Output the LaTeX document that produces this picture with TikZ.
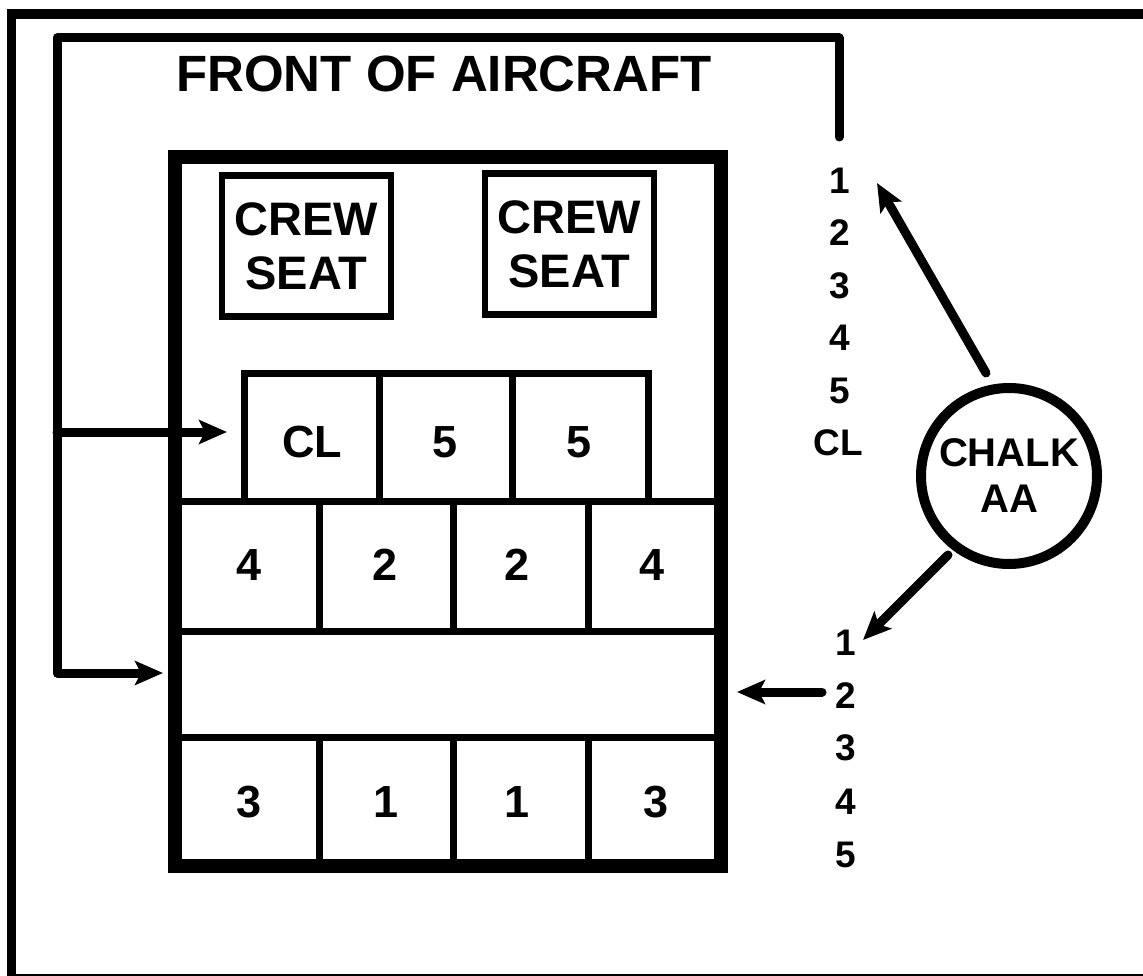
\documentclass[tikz,border=0pt]{standalone}
\usepackage{fontspec}
\setmainfont{Liberation Sans}
\usetikzlibrary{arrows.meta}
\begin{document}
\begin{tikzpicture}[x=1pt,y=-1pt,
  frame/.style={line width=9.5pt},
  fus/.style={line width=14pt},
  innerline/.style={line width=7pt},
  conn/.style={line width=9pt, line cap=round, line join=round},
  arr/.style={conn, -{Stealth[length=28pt,width=24pt,inset=6pt]}},
  seat/.style={draw, line width=6.5pt, minimum width=169pt, minimum height=141pt, inner sep=0pt, align=center, font=\fontsize{47}{54}\selectfont\bfseries},
  cell/.style={inner sep=0pt, font=\fontsize{45}{45}\selectfont\bfseries},
  lab/.style={inner sep=0pt, font=\fontsize{37}{37}\selectfont\bfseries},
]
\path[use as bounding box] (0,0) rectangle (1143,976);
\clip (0,0) rectangle (1143,976);
% outer frame
\draw[frame] (11.5,14) rectangle (1170,978.5);
% title
\node[inner sep=0pt, font=\fontsize{51}{51}\selectfont\bfseries] (front) at (444,74) {FRONT OF AIRCRAFT};
% fuselage
\draw[fus] (175,157.5) rectangle (721,866);
% crew seats
\node[seat] (crewL) at (306.5,246) {CREW\\SEAT};
\node[seat] (crewR) at (569.5,244) {CREW\\SEAT};
% seat grid
\draw[innerline] (244.5,501.5) -- (244.5,373) -- (648,373) -- (648,501.5);
\draw[innerline] (379,373) -- (379,501.5);
\draw[innerline] (512.5,373) -- (512.5,501.5);
\draw[innerline] (175,501.5) -- (721,501.5);
\draw[innerline] (175,631) -- (721,631);
\draw[innerline] (175,737.5) -- (721,737.5);
\foreach \x in {319,453.5,588} {
  \draw[innerline] (\x,501.5) -- (\x,631);
  \draw[innerline] (\x,737.5) -- (\x,866);
}
% cell labels
\node[cell] (cCL) at (312,442) {CL};
\node[cell] (c5a) at (445,442) {5};
\node[cell] (c5b) at (579,442) {5};
\node[cell] (c4a) at (249,565) {4};
\node[cell] (c2a) at (385,565) {2};
\node[cell] (c2b) at (517,565) {2};
\node[cell] (c4b) at (652,565) {4};
\node[cell] (c3a) at (249,802) {3};
\node[cell] (c1a) at (386,802) {1};
\node[cell] (c1b) at (517,802) {1};
\node[cell] (c3b) at (656,802) {3};
% upper column
\node[lab] (u1) at (840,181) {1};
\node[lab] (u2) at (840,233) {2};
\node[lab] (u3) at (840,286) {3};
\node[lab] (u4) at (840,338) {4};
\node[lab] (u5) at (840,391) {5};
\node[lab] (uCL) at (838,443) {CL};
% lower column
\node[lab] (l1) at (846,643) {1};
\node[lab] (l2) at (846,696) {2};
\node[lab] (l3) at (846,748) {3};
\node[lab] (l4) at (846,802) {4};
\node[lab] (l5) at (846,855) {5};
% chalk circle
\node[circle, draw, line width=10pt, minimum size=176pt, inner sep=0pt, align=center, font=\fontsize{40}{46}\selectfont\bfseries] (chalk) at (1009,476) {CHALK\\AA};
% routing line
\coordinate (lineEnd) at (839,137);
\coordinate (topR) at (839,38);
\coordinate (topL) at (57,38);
\coordinate (botL) at (57,673);
\coordinate (tipLow) at (163,673);
\coordinate (midL) at (57,432);
\coordinate (tipCL) at (227,432);
\draw[arr] (lineEnd) -- (topR) -- (topL) -- (botL) -- (tipLow);
\draw[arr] (midL) -- (tipCL);
% chalk arrows
\coordinate (a1s) at (986,373);
\coordinate (a1e) at (877,183);
\coordinate (a2s) at (948,555);
\coordinate (a2e) at (863,640);
\coordinate (a3s) at (822,692);
\coordinate (a3e) at (737,692);
\draw[arr] (a1s) -- (a1e);
\draw[arr] (a2s) -- (a2e);
\draw[arr] (a3s) -- (a3e);
\end{tikzpicture}
\end{document}
